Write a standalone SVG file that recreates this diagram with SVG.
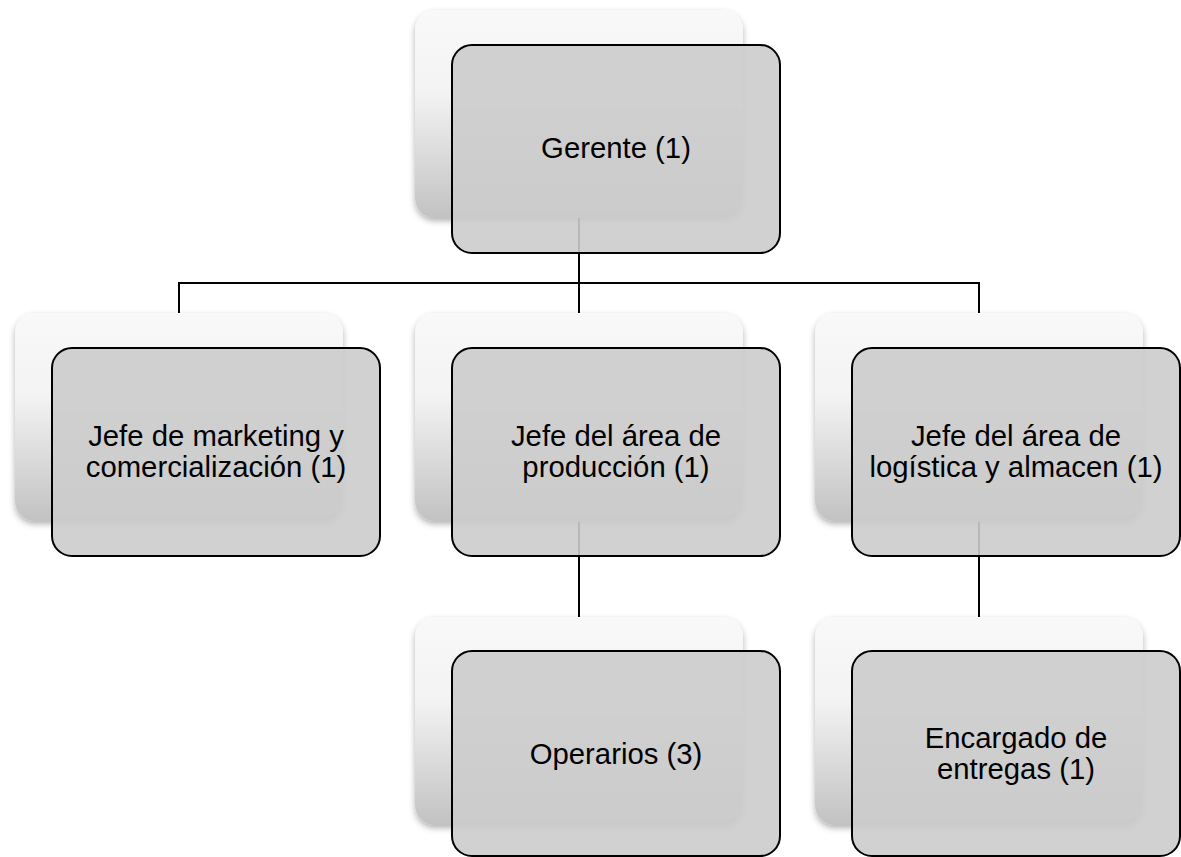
<svg xmlns="http://www.w3.org/2000/svg" width="1181" height="857" viewBox="0 0 1181 857">
  <defs>
    <linearGradient id="backGrad" x1="0" y1="0" x2="0" y2="1">
      <stop offset="0" stop-color="#f9f9f9"/>
      <stop offset="0.4" stop-color="#f3f3f3"/>
      <stop offset="1" stop-color="#c2c2c2"/>
    </linearGradient>
    <filter id="shadow" x="-10%" y="-10%" width="120%" height="125%">
      <feDropShadow dx="0" dy="3" stdDeviation="3" flood-color="#000" flood-opacity="0.3"/>
    </filter>
  </defs>
  <style>
    .back { fill: url(#backGrad); filter: url(#shadow); }
    .front { fill: #cccccc; fill-opacity: 0.9; stroke: #000; stroke-width: 2; }
    .conn { fill: none; stroke: #000; stroke-width: 2; }
    .label { font-family: "Liberation Sans", Arial, sans-serif; font-size: 29.3px; fill: #000; text-anchor: middle; }
  </style>
  <rect width="1181" height="857" fill="#ffffff"/>

  <g id="connectors">
    <path class="conn" d="M579 218 V283 M179 283 H979 M179 282 V313 M579 283 V313 M979 282 V313"/>
    <path class="conn" d="M579 522 V617"/>
    <path class="conn" d="M979 522 V617"/>
  </g>

  <g id="gerente">
    <rect class="back" x="415" y="10" width="328" height="208" rx="20"/>
    <rect class="front" x="452" y="45" width="328" height="208" rx="20"/>
    <text class="label" x="616" y="158">Gerente (1)</text>
  </g>

  <g id="marketing">
    <rect class="back" x="15" y="313" width="328" height="208" rx="20"/>
    <rect class="front" x="52" y="348" width="328" height="208" rx="20"/>
    <text class="label" x="216" y="446">Jefe de marketing y</text>
    <text class="label" x="216" y="477">comercialización (1)</text>
  </g>

  <g id="produccion">
    <rect class="back" x="415" y="313" width="328" height="208" rx="20"/>
    <rect class="front" x="452" y="348" width="328" height="208" rx="20"/>
    <text class="label" x="616" y="446">Jefe del área de</text>
    <text class="label" x="616" y="477">producción (1)</text>
  </g>

  <g id="logistica">
    <rect class="back" x="815" y="313" width="328" height="208" rx="20"/>
    <rect class="front" x="852" y="348" width="328" height="208" rx="20"/>
    <text class="label" x="1016" y="446">Jefe del área de</text>
    <text class="label" x="1016" y="477">logística y almacen (1)</text>
  </g>

  <g id="operarios">
    <rect class="back" x="415" y="617" width="328" height="208" rx="20"/>
    <rect class="front" x="452" y="651" width="328" height="205" rx="20"/>
    <text class="label" x="616" y="764">Operarios (3)</text>
  </g>

  <g id="encargado">
    <rect class="back" x="815" y="617" width="328" height="208" rx="20"/>
    <rect class="front" x="852" y="651" width="328" height="205" rx="20"/>
    <text class="label" x="1016" y="748">Encargado de</text>
    <text class="label" x="1016" y="779">entregas (1)</text>
  </g>
</svg>
